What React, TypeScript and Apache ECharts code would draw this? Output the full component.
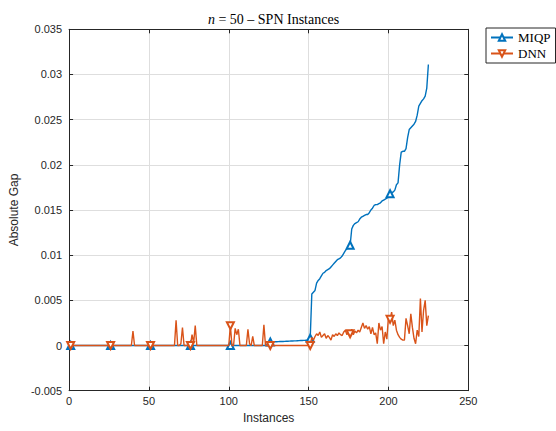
import React, { useEffect, useRef } from "react";
import * as echarts from "echarts";

// ---------- data ----------
const TITLE_ITALIC = "n";
const TITLE_REST = " = 50 – SPN Instances";
const X_LABEL = "Instances";
const Y_LABEL = "Absolute Gap";
const SERIES_NAMES = ["MIQP", "DNN"];

const X_MIN = 0;
const X_MAX = 250;
const X_STEP = 50;
const Y_MIN = -0.005;
const Y_MAX = 0.035;
const Y_STEP = 0.005;

// Absolute gap per instance (instance 1..225)
const MIQP: number[] = [
  // 1-25
  0, 0, 0, 0, 0, 0, 0, 0, 0, 0, 0, 0, 0, 0, 0, 0, 0, 0, 0, 0, 0, 0, 0, 0, 0,
  // 26-50
  0, 0, 0, 0, 0, 0, 0, 0, 0, 0, 0, 0, 0, 0, 0, 0, 0, 0, 0, 0, 0, 0, 0, 0, 0,
  // 51-75
  0, 0, 0, 0, 0, 0, 0, 0, 0, 0, 0, 0, 0, 0, 0, 0, 0, 0, 0, 0, 0, 0, 0, 0, 0,
  // 76-100
  0, 0, 0, 0, 0, 0, 0, 0, 0, 0, 0, 0, 0, 0, 0, 0, 0, 0, 0, 0, 0, 0, 0, 0, 0,
  // 101-125
  0, 0, 0, 0, 0, 0, 0, 0, 0, 0, 0, 0, 0, 0, 0, 0, 0, 0, 0, 0, 0, 0, 0, 0, 0,
  // 126-151
  0.0004, 0.0004, 0.0004, 0.00042, 0.00042, 0.00043, 0.00044, 0.00045, 0.00045, 0.00046,
  0.00047, 0.00048, 0.00049, 0.0005, 0.0005, 0.00051, 0.00052, 0.00053, 0.00054, 0.00055,
  0.00056, 0.00057, 0.00058, 0.0006, 0.00065, 0.0008,
  // 152-225
  0.0057, 0.0059, 0.0061, 0.0069, 0.0072, 0.0074, 0.0077, 0.008, 0.0081, 0.0083,
  0.0084, 0.0085, 0.0087, 0.0089, 0.0091, 0.0093, 0.0095, 0.0096, 0.0097, 0.0099,
  0.0102, 0.0105, 0.0107, 0.0109, 0.0111, 0.0129, 0.0133, 0.0135, 0.0136, 0.0137,
  0.014, 0.0142, 0.0143, 0.0144, 0.0145, 0.0145, 0.0147, 0.015, 0.0152, 0.0155,
  0.0156, 0.0156, 0.0157, 0.0158, 0.016, 0.0161, 0.0162, 0.0163, 0.0165, 0.0168,
  0.0169, 0.017, 0.0172, 0.0178, 0.018, 0.02, 0.0214, 0.0215, 0.0215, 0.0218,
  0.023, 0.0239, 0.0241, 0.0243, 0.0245, 0.0248, 0.0255, 0.0265, 0.0268, 0.0271,
  0.0273, 0.0276, 0.0285, 0.0311,
];

const DNN: number[] = [
  // 1-25
  0, 0, 0, 0, 0, 0, 0, 0, 0, 0, 0, 0, 0, 0, 0, 0, 0, 0, 0, 0, 0, 0, 0, 0, 0,
  // 26-50
  0, 0, 0, 0, 0, 0, 0, 0, 0, 0, 0, 0, 0, 0, 0.0016, 0, 0, 0, 0, 0, 0, 0, 0, 0, 0,
  // 51-75
  0, 0, 0, 0, 0, 0, 0, 0, 0, 0, 0, 0, 0, 0, 0, 0, 0.0028, 0, 0, 0.0002, 0.002, 0, 0, 0, 0,
  // 76-100
  0, 0.0012, 0.0003, 0.0022, 0, 0, 0, 0, 0, 0, 0, 0, 0, 0, 0, 0, 0, 0, 0, 0, 0, 0, 0, 0, 0,
  // 101-125
  0.0022, 0, 0, 0.0019, 0.0012, 0.0018, 0, 0, 0, 0, 0, 0.0018, 0.0002, 0, 0.001, 0, 0, 0, 0, 0, 0, 0.0023, 0, 0, 0,
  // 126-151
  0, 0, 0, 0, 0, 0, 0, 0, 0, 0, 0, 0, 0, 0, 0, 0, 0, 0, 0, 0, 0, 0, 0, 0, 0, 0,
  // 152-225
  0.0009, 0.0006, 0.001, 0.0013, 0.0011, 0.0015, 0.0009, 0.0011, 0.0013, 0.0008,
  0.0011, 0.0009, 0.0006, 0.0012, 0.001, 0.0013, 0.0011, 0.0014, 0.0012, 0.0011,
  0.0015, 0.0017, 0.0012, 0.0017, 0.0013, 0.0018, 0.0012, 0.0016, 0.0014, 0.0017,
  0.0015, 0.002, 0.0025, 0.0019, 0.0022, 0.0018, 0.0021, 0.0013, 0.002, 0.0012,
  0.0014, 0.0002, 0.0025, 0.0017, 0.0021, 0.0002, 0.0015, 0.0007, 0.0032, 0.0029,
  0.0037, 0.0022, 0.0028, 0.0017, 0.0012, 0.0009, 0.0007, 0.0006, 0.0006, 0.003,
  0.0022, 0.0013, 0.0035, 0.002, 0.0008, 0.0002, 0.0017, 0.001, 0.0052, 0.0015,
  0.0039, 0.005, 0.0022, 0.0033,
];

// ---------- style ----------
const BLUE = "#0072BD";
const ORANGE = "#D95319";
const AXIS_COLOR = "#262626";
const GRID_COLOR = "#dedede";
const SANS = "'Liberation Sans', Arial, sans-serif";
const SERIF = "'Liberation Serif', 'Times New Roman', serif";
const MARKER_EVERY = 25;

function toSeriesData(values: number[]) {
  return values.map((v, i) => {
    const x = i + 1;
    if (i % MARKER_EVERY === 0) return { value: [x, v] };
    return { value: [x, v], symbol: "none" };
  });
}

function fmtY(v: number) {
  const r = parseFloat(v.toFixed(4));
  return String(r);
}

export default function App() {
  const ref = useRef<HTMLDivElement>(null);

  useEffect(() => {
    document.body.style.margin = "0";
    if (!ref.current) return;
    const chart = echarts.init(ref.current, null, { renderer: "svg" });

    const axisLine = { show: true, onZero: false, lineStyle: { color: AXIS_COLOR, width: 1 } };
    const tickIn = { show: true, inside: true, length: 4, lineStyle: { color: AXIS_COLOR, width: 1 } };

    const option: any = {
      animation: false,
      backgroundColor: "#ffffff",
      title: {
        text: `{i|${TITLE_ITALIC}}${TITLE_REST}`,
        left: 268.5,
        top: 7,
        textAlign: "center",
        textStyle: {
          fontFamily: SERIF,
          fontSize: 14,
          fontWeight: "normal",
          color: "#000",
          rich: {
            i: { fontFamily: SERIF, fontSize: 14, fontStyle: "italic", color: "#000" },
          },
        },
      },
      legend: {
        data: SERIES_NAMES,
        orient: "vertical",
        left: 486,
        top: 28,
        borderColor: AXIS_COLOR,
        borderWidth: 1,
        padding: [3, 5, 3, 4],
        itemGap: 3,
        itemWidth: 22,
        itemHeight: 8,
        itemTextGap: 4,
        textStyle: { fontFamily: SERIF, fontSize: 13, color: "#000" },
      },
      grid: { left: 68.7, right: 87.7, top: 29.3, bottom: 40.3 },
      xAxis: [
        {
          type: "value",
          min: X_MIN,
          max: X_MAX,
          interval: X_STEP,
          position: "bottom",
          name: X_LABEL,
          nameLocation: "middle",
          nameGap: 21,
          nameTextStyle: { fontFamily: SANS, fontSize: 12, color: AXIS_COLOR },
          axisLine,
          axisTick: tickIn,
          axisLabel: { fontFamily: SANS, fontSize: 11, color: AXIS_COLOR, margin: 5 },
          splitLine: { show: true, lineStyle: { color: GRID_COLOR, width: 1 } },
        },
        {
          type: "value",
          min: X_MIN,
          max: X_MAX,
          interval: X_STEP,
          position: "top",
          axisLine,
          axisTick: tickIn,
          axisLabel: { show: false },
          splitLine: { show: false },
        },
      ],
      yAxis: [
        {
          type: "value",
          min: Y_MIN,
          max: Y_MAX,
          interval: Y_STEP,
          position: "left",
          name: Y_LABEL,
          nameLocation: "middle",
          nameGap: 47,
          nameTextStyle: { fontFamily: SANS, fontSize: 12, color: AXIS_COLOR },
          axisLine,
          axisTick: tickIn,
          axisLabel: { fontFamily: SANS, fontSize: 11, color: AXIS_COLOR, margin: 7, formatter: fmtY },
          splitLine: { show: true, lineStyle: { color: GRID_COLOR, width: 1 } },
        },
        {
          type: "value",
          min: Y_MIN,
          max: Y_MAX,
          interval: Y_STEP,
          position: "right",
          axisLine,
          axisTick: tickIn,
          axisLabel: { show: false },
          splitLine: { show: false },
        },
      ],
      series: [
        {
          name: SERIES_NAMES[0],
          type: "line",
          xAxisIndex: 0,
          yAxisIndex: 0,
          data: toSeriesData(MIQP),
          symbol: "emptyTriangle",
          symbolSize: 7,
          showSymbol: true,
          showAllSymbol: true,
          color: BLUE,
          itemStyle: { color: BLUE, borderColor: BLUE, borderWidth: 1 },
          lineStyle: { color: BLUE, width: 1.4 },
          z: 2,
        },
        {
          name: SERIES_NAMES[1],
          type: "line",
          xAxisIndex: 0,
          yAxisIndex: 0,
          data: toSeriesData(DNN),
          symbol: "emptyTriangle",
          symbolRotate: 180,
          symbolSize: 7,
          showSymbol: true,
          showAllSymbol: true,
          color: ORANGE,
          itemStyle: { color: ORANGE, borderColor: ORANGE, borderWidth: 1 },
          lineStyle: { color: ORANGE, width: 1.4 },
          z: 3,
        },
      ],
    };

    chart.setOption(option);
    return () => chart.dispose();
  }, []);

  return (
    <div
      ref={ref}
      style={{ position: "absolute", left: 0, top: 0, width: 556, height: 431 }}
    />
  );
}
